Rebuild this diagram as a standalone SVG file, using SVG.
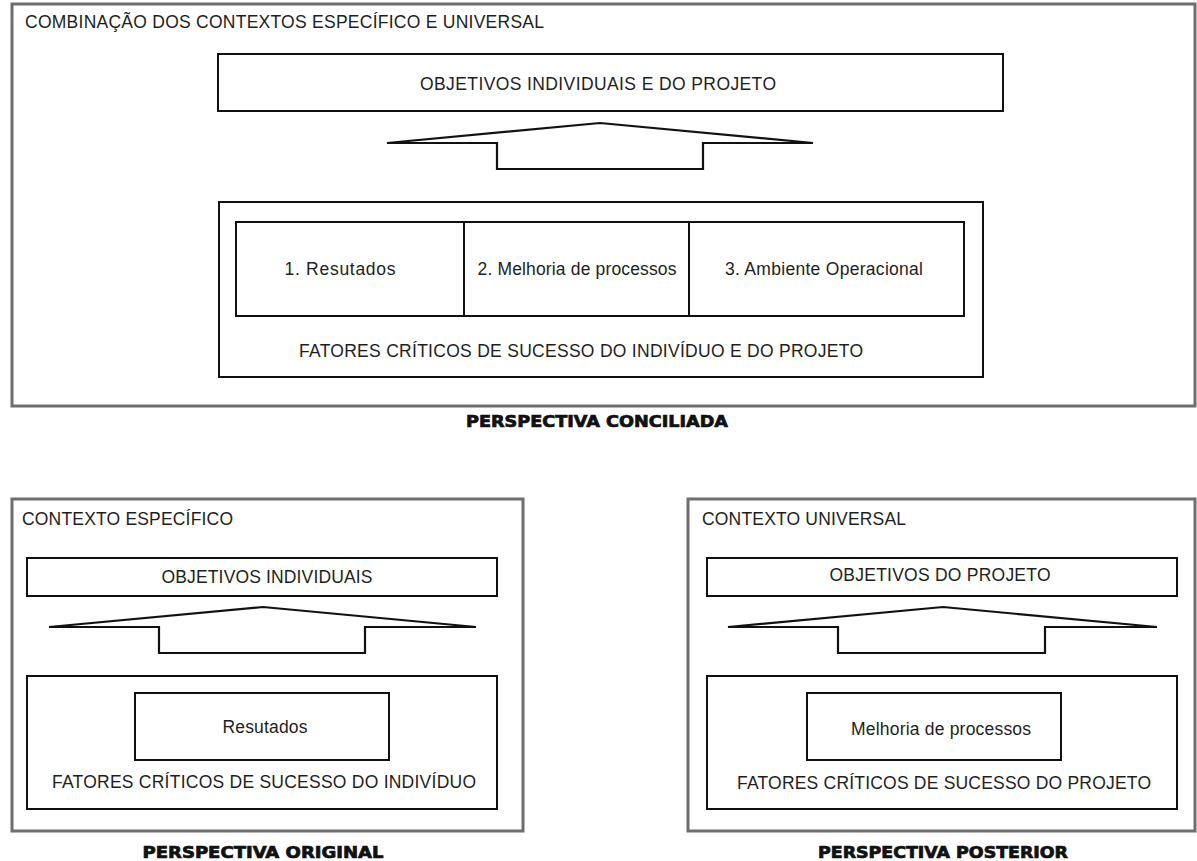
<svg xmlns="http://www.w3.org/2000/svg" width="1197" height="861" viewBox="0 0 1197 861">
  <style>
    .frame { fill: #ffffff; stroke: #6e6e6e; stroke-width: 3; }
    .box { fill: #ffffff; stroke: #111111; stroke-width: 2; }
    .arrow { fill: #ffffff; stroke: #111111; stroke-width: 2.2; stroke-linejoin: miter; }
    .t { font-family: "Liberation Sans", Arial, sans-serif; font-size: 17.5px; fill: #1e1e1e; }
    .c { text-anchor: middle; }
    .cap { font-family: "DejaVu Sans", "Liberation Sans", sans-serif; font-weight: bold; font-size: 15px; fill: #111111; stroke: #111111; stroke-width: 0.7; text-anchor: middle; }
  </style>
  <rect width="1197" height="861" fill="#ffffff"/>

  <!-- Reconciled perspective (top) -->
  <g id="conciliada">
    <rect class="frame" x="12" y="4" width="1183" height="402"/>
    <text class="t" x="25" y="28" textLength="519">COMBINAÇÃO DOS CONTEXTOS ESPECÍFICO E UNIVERSAL</text>
  </g>
  <g id="obj-conciliada">
    <rect class="box" x="218" y="54" width="785" height="57"/>
    <text class="t c" x="598" y="90" textLength="356">OBJETIVOS INDIVIDUAIS E DO PROJETO</text>
  </g>
  <g id="fcs-conciliada">
    <rect class="box" x="219" y="202" width="764" height="175"/>
    <text class="t c" x="581" y="357" textLength="564">FATORES CRÍTICOS DE SUCESSO DO INDIVÍDUO E DO PROJETO</text>
  </g>
  <g id="cell-resultados">
    <rect class="box" x="236" y="222" width="228" height="94"/>
    <text class="t c" x="340" y="275" textLength="111">1. Resutados</text>
  </g>
  <g id="cell-processos">
    <rect class="box" x="464" y="222" width="225" height="94"/>
    <text class="t c" x="577" y="275" textLength="199">2. Melhoria de processos</text>
  </g>
  <g id="cell-ambiente">
    <rect class="box" x="689" y="222" width="275" height="94"/>
    <text class="t c" x="824" y="275" textLength="198">3. Ambiente Operacional</text>
  </g>
  <text class="cap" x="597" y="427" textLength="262" lengthAdjust="spacingAndGlyphs">PERSPECTIVA CONCILIADA</text>

  <!-- Original perspective (bottom left) -->
  <g id="original">
    <rect class="frame" x="12" y="499" width="511" height="332"/>
    <text class="t" x="22" y="525" textLength="211">CONTEXTO ESPECÍFICO</text>
  </g>
  <g id="obj-original">
    <rect class="box" x="27" y="558" width="470" height="38"/>
    <text class="t c" x="267" y="583" textLength="211">OBJETIVOS INDIVIDUAIS</text>
  </g>
  <g id="fcs-original">
    <rect class="box" x="27" y="676" width="470" height="133"/>
    <text class="t c" x="264" y="788" textLength="424">FATORES CRÍTICOS DE SUCESSO DO INDIVÍDUO</text>
  </g>
  <g id="resultados-original">
    <rect class="box" x="135" y="693" width="254" height="67"/>
    <text class="t c" x="265" y="733" textLength="85">Resutados</text>
  </g>
  <text class="cap" x="263" y="858" textLength="241" lengthAdjust="spacingAndGlyphs">PERSPECTIVA ORIGINAL</text>

  <!-- Later perspective (bottom right) -->
  <g id="posterior">
    <rect class="frame" x="688" y="499" width="507" height="332"/>
    <text class="t" x="702" y="525" textLength="204">CONTEXTO UNIVERSAL</text>
  </g>
  <g id="obj-posterior">
    <rect class="box" x="707" y="558" width="470" height="38"/>
    <text class="t c" x="940" y="581" textLength="221">OBJETIVOS DO PROJETO</text>
  </g>
  <g id="fcs-posterior">
    <rect class="box" x="707" y="676" width="470" height="133"/>
    <text class="t c" x="944" y="789" textLength="414">FATORES CRÍTICOS DE SUCESSO DO PROJETO</text>
  </g>
  <g id="processos-posterior">
    <rect class="box" x="807" y="693" width="254" height="67"/>
    <text class="t c" x="941" y="735" textLength="180">Melhoria de processos</text>
  </g>
  <text class="cap" x="943" y="858" textLength="250" lengthAdjust="spacingAndGlyphs">PERSPECTIVA POSTERIOR</text>

  <!-- Upward block arrows from success factors to objectives -->
  <g id="connectors">
    <path class="arrow" d="M387,143 L600,123 L813,143 L703,143 L703,169 L497,169 L497,143 Z"/>
    <path class="arrow" d="M49,627 L263,607 L476,627 L365,627 L365,653 L159,653 L159,627 Z"/>
    <path class="arrow" d="M728,627 L943,607 L1157,627 L1045,627 L1045,653 L838,653 L838,627 Z"/>
  </g>
</svg>
